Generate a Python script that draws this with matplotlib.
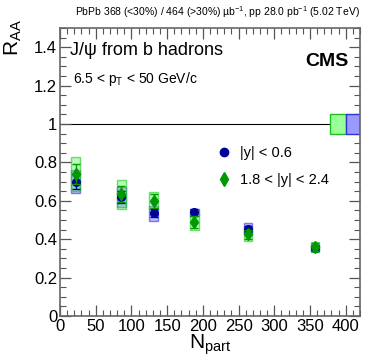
import matplotlib
matplotlib.use("Agg")
import matplotlib.pyplot as plt
from matplotlib.patches import Rectangle
from matplotlib.lines import Line2D
from matplotlib.ticker import MultipleLocator, FuncFormatter

npart = [22, 86, 131, 188, 263, 357]
raa_mid = [0.70, 0.62, 0.535, 0.54, 0.455, 0.355]
stat_mid = [0.04, 0.03, 0.02, 0.02, 0.015, 0.015]
syst_mid = [0.06, 0.05, 0.04, 0.02, 0.03, 0.015]
raa_fwd = [0.74, 0.635, 0.60, 0.49, 0.425, 0.36]
stat_fwd = [0.05, 0.04, 0.035, 0.03, 0.025, 0.02]
syst_fwd = [0.09, 0.075, 0.045, 0.04, 0.035, 0.028]
glob_fwd = 0.05
glob_mid = 0.05
labels = ["|y| < 0.6", "1.8 < |y| < 2.4"]

blue = "#000099"
green = "#009900"

plt.rcParams["font.family"] = ["Liberation Sans", "DejaVu Sans"]
plt.rcParams["mathtext.fontset"] = "custom"
plt.rcParams["mathtext.rm"] = "Liberation Sans"
plt.rcParams["mathtext.it"] = "Liberation Sans:italic"

fig = plt.figure(figsize=(3.74, 3.59), dpi=100)
ax = fig.add_axes([0.1604, 0.1198, 0.8022, 0.802])
ax.set_xlim(0, 420)
ax.set_ylim(0, 1.5)

bw = 12
for x, y, s in zip(npart, raa_mid, syst_mid):
    ax.add_patch(Rectangle((x - bw / 2, y - s), bw, 2 * s, facecolor=(0.4, 0.4, 1.0, 0.45),
                           edgecolor=(0.2, 0.2, 0.9, 0.6), lw=1.0, zorder=2))
for x, y, s in zip(npart, raa_fwd, syst_fwd):
    ax.add_patch(Rectangle((x - bw / 2, y - s), bw, 2 * s, facecolor=(0.4, 0.95, 0.4, 0.45),
                           edgecolor=(0.1, 0.8, 0.1, 0.6), lw=1.0, zorder=3))

ax.errorbar(npart, raa_mid, yerr=stat_mid, fmt="o", color=blue, ms=5.5, capsize=3,
            elinewidth=1, zorder=4)
ax.errorbar(npart, raa_fwd, yerr=stat_fwd, fmt="d", color=green, ms=6.5, capsize=3,
            elinewidth=1, zorder=5)

ax.axhline(1, color="black", lw=0.8, zorder=1)
ax.add_patch(Rectangle((378, 1 - glob_fwd), 22, 2 * glob_fwd, facecolor="#99ff99",
                       edgecolor="#22bb22", lw=1, zorder=2))
ax.add_patch(Rectangle((400, 1 - glob_mid), 20, 2 * glob_mid, facecolor="#9999ff",
                       edgecolor="#3333cc", lw=1, zorder=2))

ax.xaxis.set_major_locator(MultipleLocator(50))
ax.xaxis.set_minor_locator(MultipleLocator(10))
ax.yaxis.set_major_locator(MultipleLocator(0.2))
ax.yaxis.set_minor_locator(MultipleLocator(0.05))
ax.yaxis.set_major_formatter(FuncFormatter(lambda v, p: "%g" % round(v, 2)))
ax.tick_params(which="both", direction="in", top=True, right=True, labelsize=12,
               color="#555555", pad=2)
ax.tick_params(which="major", length=8, width=0.9)
ax.tick_params(which="minor", length=4, width=0.8)
for sp in ax.spines.values():
    sp.set_color("#666666")
    sp.set_linewidth(1.2)

ax.set_xlabel(r"N$_{\mathrm{part}}$", fontsize=15, labelpad=-1)
ax.set_ylabel(r"R$_{\mathrm{AA}}$", fontsize=15, ha="right")
ax.yaxis.set_label_coords(-0.12, 1.03)

ax.text(0.035, 0.905, "J/ψ from b hadrons", transform=ax.transAxes, fontsize=13)
ax.text(0.045, 0.81, r"6.5 < p$_{\mathrm{T}}$ < 50 GeV/c", transform=ax.transAxes, fontsize=10)
ax.text(0.96, 0.87, "CMS", transform=ax.transAxes, fontsize=14, fontweight="bold", ha="right")
fig.text(0.962, 0.955, r"PbPb 368 (<30%) / 464 (>30%) µb$^{-1}$, pp 28.0 pb$^{-1}$ (5.02 TeV)",
         ha="right", fontsize=7.5)

handles = [Line2D([], [], ls="none", marker="o", color=blue, ms=6),
           Line2D([], [], ls="none", marker="d", color=green, ms=7)]
leg = ax.legend(handles, labels, loc="upper left", bbox_to_anchor=(0.48, 0.635), frameon=False,
                fontsize=10.5, handletextpad=0.6, labelspacing=0.85, handlelength=1.0)

fig.savefig("out.png", dpi=100)
